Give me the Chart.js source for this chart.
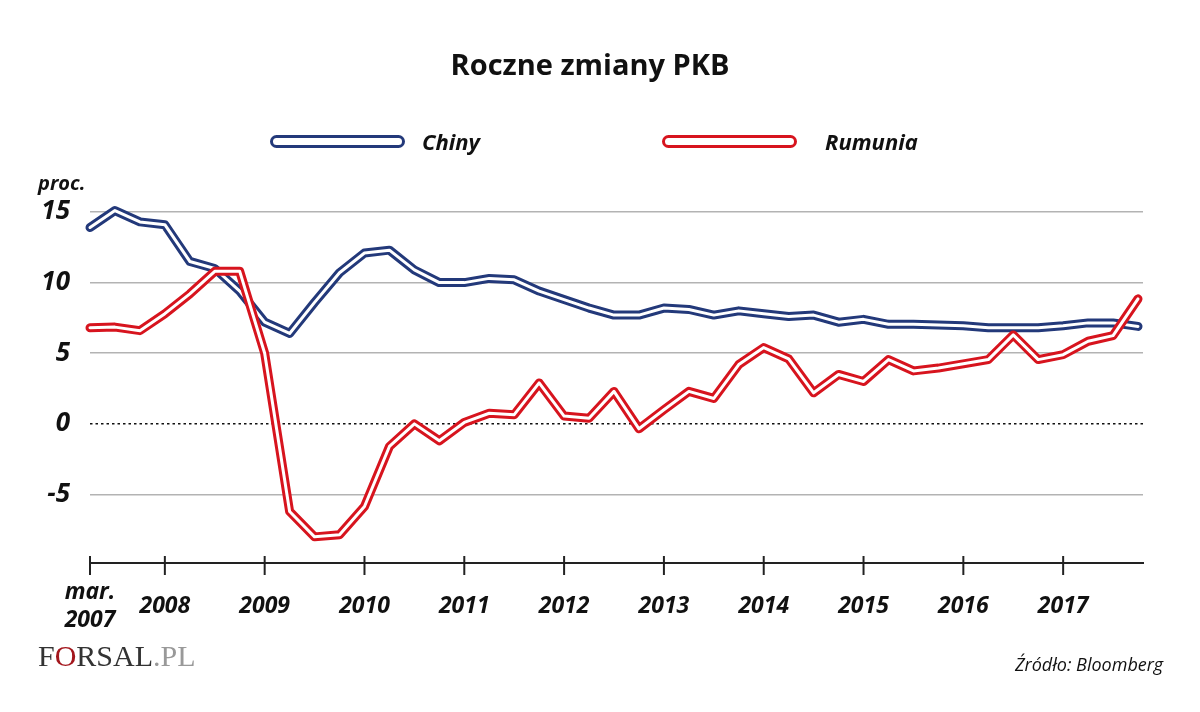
<!DOCTYPE html>
<html lang="pl">
<head>
<meta charset="utf-8">
<title>Roczne zmiany PKB</title>
<script src="https://cdn.jsdelivr.net/npm/chart.js@4.4.1/dist/chart.umd.min.js"></script>
<style>
  html, body { margin: 0; padding: 0; background: #fff; }
  #wrap { position: relative; width: 1200px; height: 712px; overflow: hidden; font-family: "Open Sans", sans-serif; color: #111; }
  #chart { position: absolute; left: 0; top: 0; }
  .txt { position: absolute; white-space: nowrap; }
  #title { left: 0; width: 1180px; top: 44px; text-align: center; font-size: 29px; font-weight: 700; line-height: 40px; }
  .leg-line { position: absolute; height: 7px; border: 3.5px solid; border-radius: 8px; background: #fff; }
  .leg-text { font-size: 22px; font-weight: 700; font-style: italic; line-height: 30px; }
  #proc { left: 38px; top: 168px; font-size: 20px; font-weight: 700; font-style: italic; line-height: 30px; }
  #source { left: 1015px; top: 650px; font-size: 18px; font-style: italic; line-height: 28px; }
  #logo { left: 38px; top: 636px; font-family: "Liberation Serif", serif; font-size: 30px; line-height: 40px; color: #333; }
  #logo .o { color: #a3161c; }
  #logo .pl { color: #999; }
</style>
</head>
<body>
<div id="wrap">
  <canvas id="chart" width="1200" height="712"></canvas>
  <div id="title" class="txt">Roczne zmiany PKB</div>
  <div class="leg-line" style="left:270px; top:135px; width:129px; border-color:#23397a;"></div>
  <div class="txt leg-text" style="left:422px; top:126px;">Chiny</div>
  <div class="leg-line" style="left:662px; top:135px; width:129px; border-color:#d7141e;"></div>
  <div class="txt leg-text" style="left:825px; top:126px;">Rumunia</div>
  <div id="proc" class="txt">proc.</div>
  <div id="logo" class="txt">F<span class="o">O</span>RSAL<span class="pl">.PL</span></div>
  <div id="source" class="txt">Źródło: Bloomberg</div>
</div>
<script>
// kwartały: mar. 2007 ... wrz. 2017 (43 punkty)
const chiny = [
    13.9, 15.1, 14.3, 14.1, 11.5, 11.0, 9.4, 7.2, 6.4, 8.6,
    10.7, 12.1, 12.3, 10.9, 10.0, 10.0, 10.3, 10.2, 9.4, 8.8,
    8.2, 7.7, 7.7, 8.2, 8.1, 7.7, 8.0, 7.8, 7.6, 7.7,
    7.2, 7.4, 7.05, 7.05, 7.0, 6.95, 6.8, 6.8, 6.8, 6.95,
    7.15, 7.15, 6.9
];
const rumunia = [
    6.8, 6.85, 6.6, 7.8, 9.2, 10.8, 10.8, 5.0, -6.2, -8.0,
    -7.85, -5.85, -1.6, 0.0, -1.2, 0.1, 0.75, 0.65, 2.9, 0.55,
    0.4, 2.3, -0.35, 1.0, 2.3, 1.8, 4.2, 5.4, 4.6, 2.2,
    3.5, 3.0, 4.55, 3.75, 3.95, 4.25, 4.55, 6.3, 4.55, 4.9,
    5.85, 6.25, 8.85
];
// podpisy osi X: indeks kwartału i tekst
const tickIdx = [0, 3, 7, 11, 15, 19, 23, 27, 31, 35, 39];
const tickLabels = [['mar.', '2007'], '2008', '2009', '2010', '2011', '2012', '2013', '2014', '2015', '2016', '2017'];
const yTicks = [-5, 0, 5, 10, 15];

const BLUE = '#23397a';
const RED = '#d7141e';
const toPoints = arr => arr.map((v, i) => ({ x: i, y: v }));

function doubleLine(data, color, order) {
    const base = { data: toPoints(data), pointRadius: 0, tension: 0, clip: false,
                   borderJoinStyle: 'round', borderCapStyle: 'round', fill: false };
    return [
        Object.assign({}, base, { borderColor: color, borderWidth: 9, order: order + 1 }),
        Object.assign({}, base, { borderColor: '#ffffff', borderWidth: 3, order: order })
    ];
}

// linia przerywana na zerze i kreski podziałki przecinające oś X
const extras = {
    id: 'extras',
    beforeDatasetsDraw(chart) {
        const { ctx, chartArea, scales } = chart;
        const y0 = scales.y.getPixelForValue(0);
        ctx.save();
        ctx.strokeStyle = '#111';
        ctx.lineWidth = 1.5;
        ctx.setLineDash([2.5, 3]);
        ctx.beginPath();
        ctx.moveTo(chartArea.left, y0);
        ctx.lineTo(chartArea.right, y0);
        ctx.stroke();
        ctx.setLineDash([]);
        ctx.lineWidth = 2;
        ctx.strokeStyle = '#222';
        tickIdx.forEach(i => {
            const x = scales.x.getPixelForValue(i);
            ctx.beginPath();
            ctx.moveTo(x, chartArea.bottom - 7);
            ctx.lineTo(x, chartArea.bottom + 12);
            ctx.stroke();
        });
        ctx.restore();
    }
};

new Chart(document.getElementById('chart').getContext('2d'), {
    type: 'line',
    data: {
        datasets: [
            ...doubleLine(rumunia, RED, 0),
            ...doubleLine(chiny, BLUE, 2)
        ]
    },
    options: {
        responsive: false,
        animation: false,
        layout: { padding: { left: 0, top: 212, right: 57, bottom: 0 } },
        plugins: { legend: { display: false }, tooltip: { enabled: false } },
        scales: {
            x: {
                type: 'linear',
                min: 0,
                max: 42.2,
                afterFit: s => { s.height = 149; },
                afterBuildTicks: s => { s.ticks = tickIdx.map(v => ({ value: v })); },
                grid: { display: false, drawTicks: false },
                border: { display: true, color: '#222', width: 2 },
                ticks: {
                    autoSkip: false,
                    maxRotation: 0,
                    padding: 29,
                    crossAlign: 'center',
                    color: '#111',
                    font: { family: 'Open Sans', size: 23, weight: 'bold', style: 'italic', lineHeight: 1.22 },
                    callback: v => tickLabels[tickIdx.indexOf(v)]
                }
            },
            y: {
                min: -9.85,
                max: 15,
                afterFit: s => { s.width = 90; },
                afterBuildTicks: s => { s.ticks = yTicks.map(v => ({ value: v })); },
                border: { display: false },
                grid: {
                    drawTicks: false,
                    lineWidth: 1.5,
                    color: c => c.tick && c.tick.value === 0 ? 'rgba(0,0,0,0)' : '#b3b3b3'
                },
                ticks: {
                    padding: 20,
                    color: '#111',
                    font: { family: 'Open Sans', size: 26, weight: 'bold', style: 'italic' }
                }
            }
        }
    },
    plugins: [extras]
});
</script>
</body>
</html>
